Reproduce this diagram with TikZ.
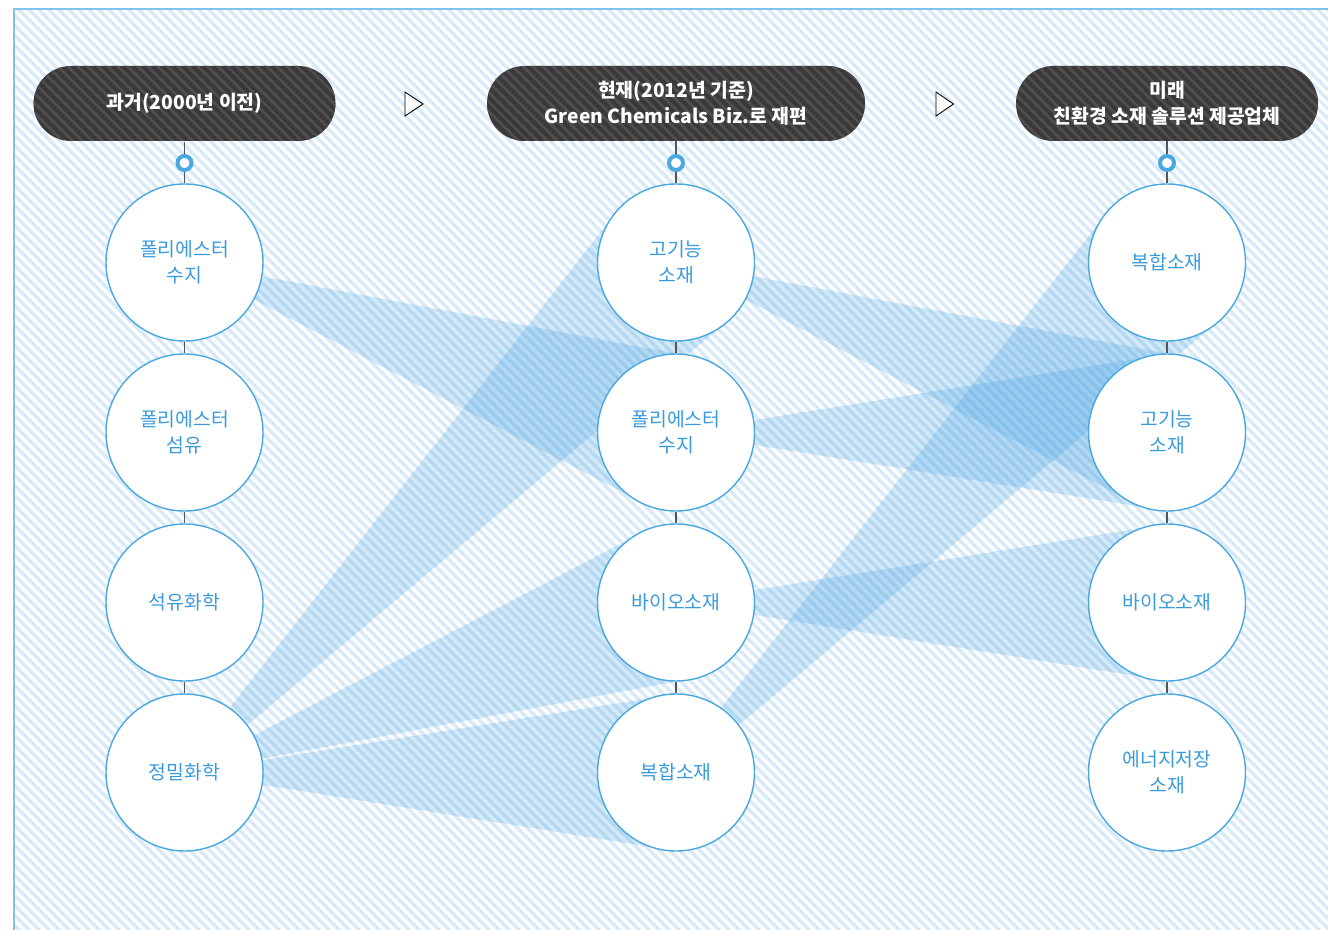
\documentclass[tikz,border=0pt]{standalone}
\usepackage{fontspec}
\setmainfont{Noto Sans CJK KR}
\usetikzlibrary{calc,patterns.meta,backgrounds}

\definecolor{skyline}{HTML}{4AA8E0}
\definecolor{skytext}{HTML}{3A9BDC}
\definecolor{stripe}{HTML}{D8E9F8}
\definecolor{pill}{HTML}{3A3838}
\definecolor{pillstripe}{HTML}{4F4D4D}
\definecolor{fan}{HTML}{3C9EE0}
\definecolor{stem}{HTML}{555555}

\newcommand{\rad}{1.57cm}
% fan from one circle to another, narrow at the source
\newcommand{\fanband}[2]{%
  \fill[fanband] ($(#1.center)!\rad!-9:(#2.center)$) -- ($(#2.center)!\rad!90:(#1.center)$)
    -- ($(#2.center)!\rad!-90:(#1.center)$) -- ($(#1.center)!\rad!9:(#2.center)$) -- cycle;}

\begin{document}
\begin{tikzpicture}[
    item/.style={circle, draw=skyline, line width=0.8pt, fill=white, minimum size=3.14cm,
      inner sep=0pt, align=center, text=skytext, font=\fontsize{11}{14.8}\selectfont},
    era/.style={rounded corners=0.75cm, minimum height=1.5cm, inner sep=0pt, align=center,
      text=white, font=\bfseries\fontsize{11}{14.8}\selectfont,
      preaction={fill=pill}, pattern={Lines[angle=-45,distance=0.14cm,line width=0.06cm]},
      pattern color=pillstripe},
    ring/.style={circle, draw=skyline, line width=0.08cm, fill=white, minimum size=0.28cm, inner sep=0pt},
    stemline/.style={draw=stem, line width=0.6pt},
    fanband/.style={fill=fan, fill opacity=0.22},
    next/.style={draw=black, line width=0.5pt, fill=white, line join=miter}
  ]
  \useasboundingbox (0,0) rectangle (26.56,-18.6);

  % headers
  \node[era, minimum width=6.04cm] (hl) at (3.69,-2.07) {과거(2000년 이전)};
  \node[era, minimum width=7.56cm] (hm) at (13.52,-2.07) {현재(2012년 기준)\\Green Chemicals Biz.로 재편};
  \node[era, minimum width=6.04cm] (hr) at (23.34,-2.07) {미래\\친환경 소재 솔루션 제공업체};

  \draw[next] (8.1,-1.84) -- (8.46,-2.08) -- (8.1,-2.32) -- cycle;
  \draw[next] (18.72,-1.84) -- (19.07,-2.08) -- (18.72,-2.32) -- cycle;

  % rings
  \node[ring] (ringl) at (3.69,-3.26) {};
  \node[ring] (ringm) at (13.52,-3.26) {};
  \node[ring] (ringr) at (23.34,-3.26) {};

  % past
  \node[item] (l1) at (3.69,-5.25) {폴리에스터\\수지};
  \node[item] (l2) at (3.69,-8.65) {폴리에스터\\섬유};
  \node[item] (l3) at (3.69,-12.05) {석유화학};
  \node[item] (l4) at (3.69,-15.45) {정밀화학};

  % present
  \node[item] (m1) at (13.52,-5.25) {고기능\\소재};
  \node[item] (m2) at (13.52,-8.65) {폴리에스터\\수지};
  \node[item] (m3) at (13.52,-12.05) {바이오소재};
  \node[item] (m4) at (13.52,-15.45) {복합소재};

  % future
  \node[item] (r1) at (23.34,-5.25) {복합소재};
  \node[item] (r2) at (23.34,-8.65) {고기능\\소재};
  \node[item] (r3) at (23.34,-12.05) {바이오소재};
  \node[item] (r4) at (23.34,-15.45) {에너지저장\\소재};

  \draw[stemline] (hl.south) -- (ringl) -- (l1) -- (l2) -- (l3) -- (l4);
  \draw[stemline] (hm.south) -- (ringm) -- (m1) -- (m2) -- (m3) -- (m4);
  \draw[stemline] (hr.south) -- (ringr) -- (r1) -- (r2) -- (r3) -- (r4);

  \begin{pgfonlayer}{background}
    \fill[white] (0.28,-0.18) rectangle (26.56,-18.6);
    \fill[pattern={Lines[angle=-45,distance=0.14cm,line width=0.07cm]}, pattern color=stripe]
      (0.28,-0.18) rectangle (26.56,-18.6);
    \draw[skyline!70, line width=0.7pt] (0.28,-18.6) -- (0.28,-0.18) -- (26.56,-0.18);

    \fanband{l1}{m2}
    \fanband{l4}{m1}
    \fanband{l4}{m3}
    \fanband{l4}{m4}
    \fanband{m1}{r2}
    \fanband{m2}{r2}
    \fanband{m3}{r3}
    \fanband{m4}{r1}
  \end{pgfonlayer}
\end{tikzpicture}
\end{document}
